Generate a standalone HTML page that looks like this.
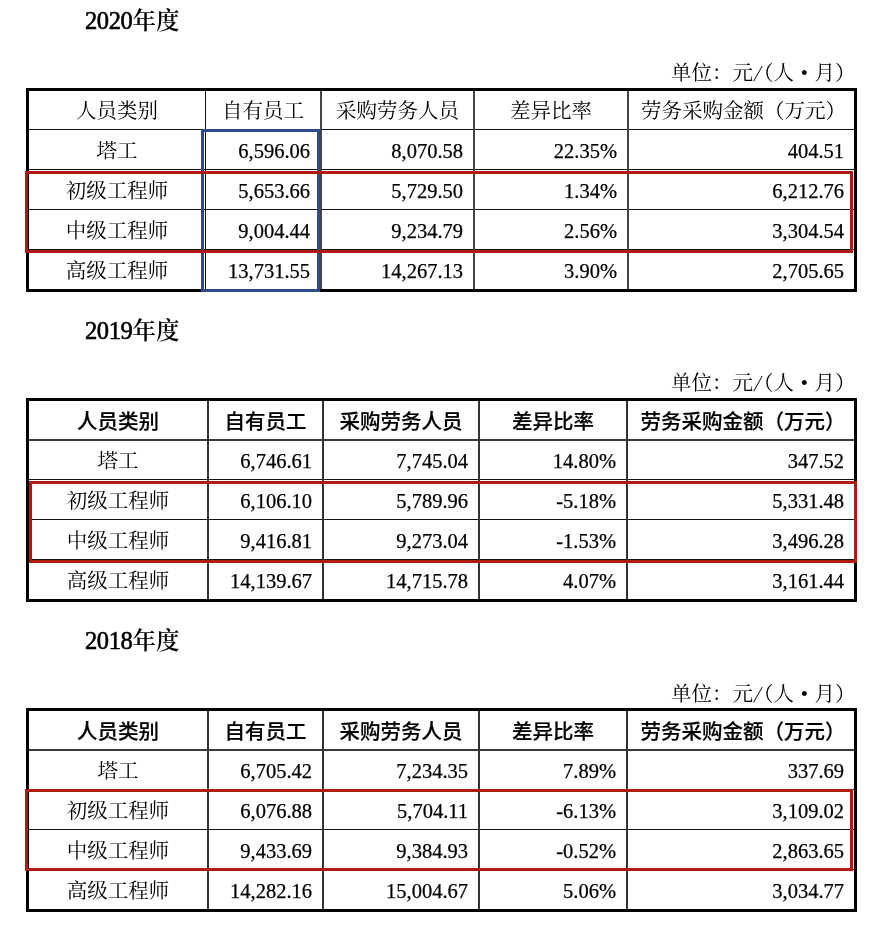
<!DOCTYPE html>
<html lang="zh-CN"><head><meta charset="utf-8"><title>人员薪酬对比</title>
<style>
*{margin:0;padding:0;box-sizing:content-box}
html,body{width:870px;height:940px;background:#fff;overflow:hidden}
body{position:relative;will-change:transform;filter:blur(0.3px);font-family:"Liberation Serif","Noto Serif CJK SC",serif;color:#000}
.r{position:absolute}
.title{position:absolute;font-size:23.5px;font-weight:600;line-height:30px;white-space:nowrap}
.unit{position:absolute;font-size:20.5px;line-height:30px;white-space:nowrap}
.dot{display:inline-block;width:1em;text-align:center}
.sl{display:inline-block;width:0.5em;text-align:center;transform:skewX(-14deg) scaleY(1.12)}
.lp{margin-left:-0.5em}
.yr{font-size:24.5px;letter-spacing:-0.4px;font-weight:400;-webkit-text-stroke:0.6px #000}
.c{position:absolute;text-align:center;font-size:20.5px;line-height:39px;height:39px;white-space:nowrap}
.hb{font-weight:500;-webkit-text-stroke:0.2px #000;font-family:"Liberation Sans","Noto Sans CJK SC",sans-serif}
.n{position:absolute;-webkit-text-stroke:0.25px #000;text-align:right;font-size:20.5px;line-height:39px;height:39px;white-space:nowrap}
</style></head>
<body>
<div class="title" style="left:85px;top:5.5px"><span class="yr">2020</span>年度</div>
<div class="unit" style="right:14.5px;top:58px">单位：元<span class="sl">/</span><span class="lp">（</span>人<span class="dot">•</span>月）</div>
<div class="c" style="left:29px;width:176px;top:92px">人员类别</div>
<div class="c" style="left:206px;width:114px;top:92px">自有员工</div>
<div class="c" style="left:322px;width:151px;top:92px">采购劳务人员</div>
<div class="c" style="left:475px;width:152px;top:92px">差异比率</div>
<div class="c" style="left:631px;width:225px;top:92px">劳务采购金额（万元）</div>
<div class="c" style="left:29px;width:176px;top:132px">塔工</div>
<div class="n" style="right:560px;top:132px">6,596.06</div>
<div class="n" style="right:407px;top:132px">8,070.58</div>
<div class="n" style="right:253px;top:132px">22.35%</div>
<div class="n" style="right:26px;top:132px">404.51</div>
<div class="c" style="left:29px;width:176px;top:172px">初级工程师</div>
<div class="n" style="right:560px;top:172px">5,653.66</div>
<div class="n" style="right:407px;top:172px">5,729.50</div>
<div class="n" style="right:253px;top:172px">1.34%</div>
<div class="n" style="right:26px;top:172px">6,212.76</div>
<div class="c" style="left:29px;width:176px;top:212px">中级工程师</div>
<div class="n" style="right:560px;top:212px">9,004.44</div>
<div class="n" style="right:407px;top:212px">9,234.79</div>
<div class="n" style="right:253px;top:212px">2.56%</div>
<div class="n" style="right:26px;top:212px">3,304.54</div>
<div class="c" style="left:29px;width:176px;top:252px">高级工程师</div>
<div class="n" style="right:560px;top:252px">13,731.55</div>
<div class="n" style="right:407px;top:252px">14,267.13</div>
<div class="n" style="right:253px;top:252px">3.90%</div>
<div class="n" style="right:26px;top:252px">2,705.65</div>
<div class="r" style="left:26px;top:129px;width:831px;height:1px;background:#111"></div>
<div class="r" style="left:26px;top:169px;width:831px;height:1px;background:#111"></div>
<div class="r" style="left:26px;top:209px;width:831px;height:1px;background:#111"></div>
<div class="r" style="left:26px;top:249px;width:831px;height:1px;background:#111"></div>
<div class="r" style="left:205px;top:88px;width:1px;height:203px;background:#111"></div>
<div class="r" style="left:320px;top:88px;width:2px;height:203px;background:#444"></div>
<div class="r" style="left:473px;top:88px;width:2px;height:203px;background:#444"></div>
<div class="r" style="left:627px;top:88px;width:2px;height:203px;background:#444"></div>
<div class="r" style="left:26px;top:88px;width:831px;height:3px;background:#000"></div>
<div class="r" style="left:26px;top:289px;width:831px;height:3px;background:#000"></div>
<div class="r" style="left:26px;top:88px;width:3px;height:204px;background:#000"></div>
<div class="r" style="left:854px;top:88px;width:3px;height:204px;background:#000"></div>
<div class="r" style="left:201px;top:129px;width:113px;height:157px;border:3px solid #2f4b8a"></div>
<div class="r" style="left:25px;top:171px;width:822px;height:76px;border:3px solid #ae1b12"></div>
<div class="title" style="left:85px;top:315.5px"><span class="yr">2019</span>年度</div>
<div class="unit" style="right:14.5px;top:368px">单位：元<span class="sl">/</span><span class="lp">（</span>人<span class="dot">•</span>月）</div>
<div class="c hb" style="left:29px;width:178px;top:402px">人员类别</div>
<div class="c hb" style="left:209px;width:113px;top:402px">自有员工</div>
<div class="c hb" style="left:324px;width:154px;top:402px">采购劳务人员</div>
<div class="c hb" style="left:480px;width:146px;top:402px">差异比率</div>
<div class="c hb" style="left:630px;width:226px;top:402px">劳务采购金额（万元）</div>
<div class="c" style="left:29px;width:178px;top:442px">塔工</div>
<div class="n" style="right:558px;top:442px">6,746.61</div>
<div class="n" style="right:402px;top:442px">7,745.04</div>
<div class="n" style="right:254px;top:442px">14.80%</div>
<div class="n" style="right:26px;top:442px">347.52</div>
<div class="c" style="left:29px;width:178px;top:482px">初级工程师</div>
<div class="n" style="right:558px;top:482px">6,106.10</div>
<div class="n" style="right:402px;top:482px">5,789.96</div>
<div class="n" style="right:254px;top:482px">-5.18%</div>
<div class="n" style="right:26px;top:482px">5,331.48</div>
<div class="c" style="left:29px;width:178px;top:522px">中级工程师</div>
<div class="n" style="right:558px;top:522px">9,416.81</div>
<div class="n" style="right:402px;top:522px">9,273.04</div>
<div class="n" style="right:254px;top:522px">-1.53%</div>
<div class="n" style="right:26px;top:522px">3,496.28</div>
<div class="c" style="left:29px;width:178px;top:562px">高级工程师</div>
<div class="n" style="right:558px;top:562px">14,139.67</div>
<div class="n" style="right:402px;top:562px">14,715.78</div>
<div class="n" style="right:254px;top:562px">4.07%</div>
<div class="n" style="right:26px;top:562px">3,161.44</div>
<div class="r" style="left:26px;top:439px;width:831px;height:2px;background:#3a3a3a"></div>
<div class="r" style="left:26px;top:479px;width:831px;height:1px;background:#111"></div>
<div class="r" style="left:26px;top:519px;width:831px;height:1px;background:#111"></div>
<div class="r" style="left:26px;top:559px;width:831px;height:1px;background:#111"></div>
<div class="r" style="left:207px;top:398px;width:2px;height:203px;background:#333"></div>
<div class="r" style="left:322px;top:398px;width:2px;height:203px;background:#333"></div>
<div class="r" style="left:478px;top:398px;width:2px;height:203px;background:#333"></div>
<div class="r" style="left:626px;top:398px;width:2px;height:203px;background:#333"></div>
<div class="r" style="left:26px;top:398px;width:831px;height:3px;background:#000"></div>
<div class="r" style="left:26px;top:599px;width:831px;height:3px;background:#000"></div>
<div class="r" style="left:26px;top:398px;width:3px;height:204px;background:#000"></div>
<div class="r" style="left:854px;top:398px;width:3px;height:204px;background:#000"></div>
<div class="r" style="left:29px;top:481px;width:822px;height:76px;border:3px solid #ae1b12"></div>
<div class="title" style="left:85px;top:625.5px"><span class="yr">2018</span>年度</div>
<div class="unit" style="right:14.5px;top:679px">单位：元<span class="sl">/</span><span class="lp">（</span>人<span class="dot">•</span>月）</div>
<div class="c hb" style="left:29px;width:178px;top:712px">人员类别</div>
<div class="c hb" style="left:209px;width:113px;top:712px">自有员工</div>
<div class="c hb" style="left:324px;width:154px;top:712px">采购劳务人员</div>
<div class="c hb" style="left:480px;width:146px;top:712px">差异比率</div>
<div class="c hb" style="left:630px;width:226px;top:712px">劳务采购金额（万元）</div>
<div class="c" style="left:29px;width:178px;top:752px">塔工</div>
<div class="n" style="right:558px;top:752px">6,705.42</div>
<div class="n" style="right:402px;top:752px">7,234.35</div>
<div class="n" style="right:254px;top:752px">7.89%</div>
<div class="n" style="right:26px;top:752px">337.69</div>
<div class="c" style="left:29px;width:178px;top:792px">初级工程师</div>
<div class="n" style="right:558px;top:792px">6,076.88</div>
<div class="n" style="right:402px;top:792px">5,704.11</div>
<div class="n" style="right:254px;top:792px">-6.13%</div>
<div class="n" style="right:26px;top:792px">3,109.02</div>
<div class="c" style="left:29px;width:178px;top:832px">中级工程师</div>
<div class="n" style="right:558px;top:832px">9,433.69</div>
<div class="n" style="right:402px;top:832px">9,384.93</div>
<div class="n" style="right:254px;top:832px">-0.52%</div>
<div class="n" style="right:26px;top:832px">2,863.65</div>
<div class="c" style="left:29px;width:178px;top:872px">高级工程师</div>
<div class="n" style="right:558px;top:872px">14,282.16</div>
<div class="n" style="right:402px;top:872px">15,004.67</div>
<div class="n" style="right:254px;top:872px">5.06%</div>
<div class="n" style="right:26px;top:872px">3,034.77</div>
<div class="r" style="left:26px;top:749px;width:831px;height:2px;background:#3a3a3a"></div>
<div class="r" style="left:26px;top:789px;width:831px;height:1px;background:#111"></div>
<div class="r" style="left:26px;top:829px;width:831px;height:1px;background:#111"></div>
<div class="r" style="left:26px;top:869px;width:831px;height:1px;background:#111"></div>
<div class="r" style="left:207px;top:708px;width:2px;height:203px;background:#333"></div>
<div class="r" style="left:322px;top:708px;width:2px;height:203px;background:#333"></div>
<div class="r" style="left:478px;top:708px;width:2px;height:203px;background:#333"></div>
<div class="r" style="left:626px;top:708px;width:2px;height:203px;background:#333"></div>
<div class="r" style="left:26px;top:708px;width:831px;height:3px;background:#000"></div>
<div class="r" style="left:26px;top:909px;width:831px;height:3px;background:#000"></div>
<div class="r" style="left:26px;top:708px;width:3px;height:204px;background:#000"></div>
<div class="r" style="left:854px;top:708px;width:3px;height:204px;background:#000"></div>
<div class="r" style="left:25px;top:789px;width:822px;height:76px;border:3px solid #ae1b12"></div>
</body></html>
